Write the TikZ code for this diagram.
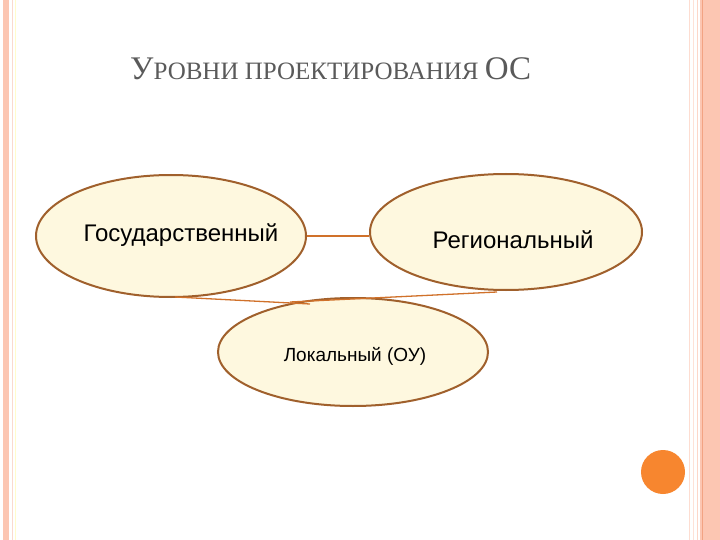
\documentclass[tikz,border=0pt]{standalone}
\usepackage{fontspec}
\setmainfont{Liberation Serif}
\newfontfamily\arialf{Liberation Sans}
\usetikzlibrary{shapes.geometric}
\definecolor{pinkband}{HTML}{FCC6B2}
\definecolor{pinkline}{HTML}{F2A383}
\definecolor{creamfill}{HTML}{FEF8DF}
\definecolor{ellborder}{HTML}{A0602C}
\definecolor{linkc}{HTML}{D0712A}
\definecolor{dotc}{HTML}{F7862F}
\definecolor{titlec}{HTML}{5A5A5A}
\tikzset{
  x=1pt, y=-1pt,
  lvl/.style={ellipse, draw=ellborder, line width=2pt, fill=creamfill, inner sep=0pt, font=\arialf\fontsize{24}{26}\selectfont},
  lbl/.style={inner sep=0pt, font=\arialf\fontsize{24}{26}\selectfont},
  link/.style={draw=linkc, line width=1.3pt}
}
\begin{document}
\begin{tikzpicture}
\useasboundingbox (0,0) rectangle (720,540);
\fill[white] (0,0) rectangle (720,540);
% left border
\fill[pinkband] (3,0) rectangle (9,540);
\draw[pinkline!40, line width=0.8pt] (12.5,0) -- (12.5,540);
\draw[yellow!20, line width=0.8pt] (15,0) -- (15,540);
% right border
\draw[pinkband!60, line width=1pt] (689,0) -- (689,540);
\draw[pinkband!50, line width=0.8pt] (693,0) -- (693,540);
\draw[pinkband!70, line width=1pt] (697,0) -- (697,540);
\fill[pinkband] (700,0) rectangle (720,540);
\draw[pinkline, line width=1pt] (702,0) -- (702,540);
% title
\node[anchor=base west, text=titlec, inner sep=0pt] (title) at (130,80)
  {\fontsize{33}{36}\selectfont У\fontsize{25}{28}\selectfont РОВНИ ПРОЕКТИРОВАНИЯ \fontsize{33}{36}\selectfont ОС};
% ellipses
\node[lvl, minimum width=270pt, minimum height=122pt] (gos) at (171,236) {};
\node[lbl] (goslbl) at (181,235) {Государственный};
\node[lvl, minimum width=272pt, minimum height=116pt] (reg) at (506,232) {};
\node[lbl] (reglbl) at (513,240) {Региональный};
\node[lvl, minimum width=270pt, minimum height=108pt] (lok) at (353,352) {};
\node[lbl, font=\arialf\fontsize{19}{21}\selectfont] (loklbl) at (355,356) {Локальный (ОУ)};
% connectors
\draw[link] (gos.east) -- (reg.west |- gos.east);
\coordinate (gb) at (175,297);
\coordinate (rb) at (497,292);
\coordinate (l1) at (310,304);
\coordinate (l2) at (290,302);
\draw[link] (gb) -- (l1);
\draw[link] (rb) -- (l2);
% dot
\fill[dotc] (663,472) circle (22);
\end{tikzpicture}
\end{document}
